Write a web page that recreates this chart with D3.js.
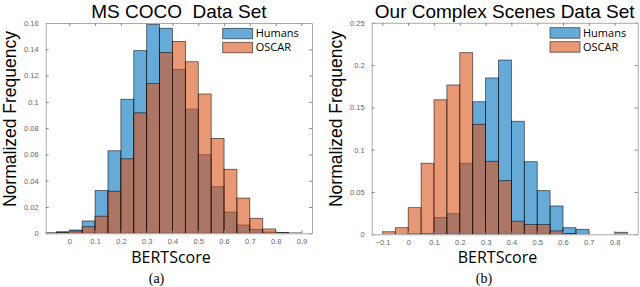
<!DOCTYPE html>
<html>
<head>
<meta charset="utf-8">
<script src="https://cdn.jsdelivr.net/npm/d3@7"></script>
<style>
  body { margin: 0; background: #fff; }
  svg { display: block; }
  .tick text { font-family: "Liberation Sans", Arial, sans-serif; font-size: 7.5px; fill: #666; }
  .tick line { stroke: #888; }
</style>
</head>
<body>
<div id="chart"></div>
<script>
// bin start values (bin width 0.05)
const cocoBins = [-0.1, -0.05, 0, 0.05, 0.1, 0.15, 0.2, 0.25, 0.3, 0.35, 0.4, 0.45, 0.5, 0.55, 0.6, 0.65, 0.7, 0.75, 0.8, 0.85];
const cocoHumans = [0.0003, 0.0012, 0.0025, 0.0094, 0.0325, 0.0628, 0.102, 0.139, 0.159, 0.156, 0.1247, 0.0945, 0.0598, 0.0355, 0.0162, 0.0063, 0.003, 0.001, 0.0006, 0.0003];
const cocoOscar = [0.0002, 0.0006, 0.0018, 0.005, 0.013, 0.032, 0.0567, 0.0917, 0.114, 0.1376, 0.146, 0.1305, 0.106, 0.0722, 0.0487, 0.0268, 0.0114, 0.0033, 0.0004, 0];

const complexBins = [-0.1, -0.05, 0, 0.05, 0.1, 0.15, 0.2, 0.25, 0.3, 0.35, 0.4, 0.45, 0.5, 0.55, 0.6, 0.65, 0.7, 0.75, 0.8];
const complexHumans = [0, 0, 0.0005, 0.0008, 0.020, 0.0244, 0.084, 0.1567, 0.1848, 0.206, 0.1336, 0.0858, 0.0516, 0.0335, 0.0078, 0.0059, 0, 0, 0.0024];
const complexOscar = [0.003, 0.0078, 0.0315, 0.084, 0.159, 0.1765, 0.2147, 0.130, 0.0863, 0.0634, 0.0155, 0.0115, 0.0115, 0.004, 0.001, 0, 0, 0, 0];

const cocoYTicks = [0, 0.02, 0.04, 0.06, 0.08, 0.1, 0.12, 0.14, 0.16];
const cocoXTicks = [0, 0.1, 0.2, 0.3, 0.4, 0.5, 0.6, 0.7, 0.8, 0.9];
const complexYTicks = [0, 0.05, 0.1, 0.15, 0.2, 0.25];
const complexXTicks = [-0.1, 0, 0.1, 0.2, 0.3, 0.4, 0.5, 0.6, 0.7, 0.8];

const seriesNames = ['Humans', 'OSCAR'];
const binWidth = 0.05;

const W = 640, H = 287;
const svg = d3.select('#chart').append('svg')
    .attr('width', W)
    .attr('height', H);

// clip path ids need to be unique
function drawPanel(opt) {
    const x = d3.scaleLinear().domain(opt.xDomain).range([opt.left, opt.right]);
    const y = d3.scaleLinear().domain(opt.yDomain).range([opt.bottom, opt.top]);

    const g = svg.append('g');

    g.append('clipPath').attr('id', opt.id)
        .append('rect')
        .attr('x', opt.left).attr('y', opt.top)
        .attr('width', opt.right - opt.left).attr('height', opt.bottom - opt.top);

    const plot = g.append('g').attr('clip-path', 'url(#' + opt.id + ')');

    const series = [
        {values: opt.humans, color: 'rgb(0,114,189)'},
        {values: opt.oscar, color: 'rgb(217,83,25)'}
    ];
    series.forEach(function (s) {
        const data = opt.bins.map(function (b, i) {
            return {x0: b, v: s.values[i]};
        }).filter(function (d) { return d.v > 0; });
        plot.selectAll(null)
            .data(data)
            .enter()
            .append('rect')
            .attr('x', function (d) { return x(d.x0); })
            .attr('width', function (d) { return x(d.x0 + binWidth) - x(d.x0); })
            .attr('y', function (d) { return y(d.v); })
            .attr('height', function (d) { return y(0) - y(d.v); })
            .attr('fill', s.color)
            .attr('fill-opacity', 0.6)
            .attr('stroke', '#000')
            .attr('stroke-opacity', 0.65)
            .attr('stroke-width', 0.8);
    });

    // axes, ticks pointing inward
    g.append('g').attr('transform', 'translate(' + opt.left + ',0)')
        .call(d3.axisLeft(y).tickValues(opt.yTicks).tickSize(-3).tickSizeOuter(0).tickPadding(7)
            .tickFormat(d3.format('~g')));
    g.append('g').attr('transform', 'translate(' + opt.right + ',0)')
        .call(d3.axisRight(y).tickValues(opt.yTicks).tickSize(-3).tickSizeOuter(0).tickFormat(''));
    g.append('g').attr('transform', 'translate(0,' + opt.bottom + ')')
        .call(d3.axisBottom(x).tickValues(opt.xTicks).tickSize(-3).tickSizeOuter(0).tickPadding(5)
            .tickFormat(d3.format('~g')));
    g.append('g').attr('transform', 'translate(0,' + opt.top + ')')
        .call(d3.axisTop(x).tickValues(opt.xTicks).tickSize(-3).tickSizeOuter(0).tickFormat(''));
    g.selectAll('.domain').attr('stroke', '#aaa');

    // title
    g.append('text')
        .attr('x', (opt.left + opt.right) / 2)
        .attr('y', 17.5)
        .attr('text-anchor', 'middle')
        .style('white-space', 'pre')
        .style('font-family', '"Liberation Sans", Arial, sans-serif')
        .style('font-size', '19px')
        .text(opt.title);

    // y label
    g.append('text')
        .attr('transform', 'translate(' + (opt.left - 29.5) + ',' + 119 + ') rotate(-90)')
        .attr('text-anchor', 'middle')
        .style('font-family', '"Liberation Sans", Arial, sans-serif')
        .style('font-size', '17.5px')
        .text('Normalized Frequency');

    // x label
    g.append('text')
        .attr('x', opt.xLabelX)
        .attr('y', 263)
        .attr('text-anchor', 'middle')
        .style('font-family', '"Open Sans", sans-serif')
        .style('font-size', '16px')
        .text('BERTScore');

    // caption
    g.append('text')
        .attr('x', opt.captionX)
        .attr('y', 283)
        .attr('text-anchor', 'middle')
        .style('font-family', '"Liberation Serif", "Times New Roman", serif')
        .style('font-size', '14px')
        .text(opt.caption);

    // legend
    const legend = g.append('g');
    seriesNames.forEach(function (name, i) {
        const ly = opt.legendY + i * 14;
        legend.append('rect')
            .attr('x', opt.legendX).attr('y', ly)
            .attr('width', 30).attr('height', 10.5)
            .attr('fill', series[i].color)
            .attr('fill-opacity', 0.6)
            .attr('stroke', '#000')
            .attr('stroke-opacity', 0.65)
            .attr('stroke-width', 0.8);
        legend.append('text')
            .attr('x', opt.legendX + 33)
            .attr('y', ly + 9)
            .style('font-family', '"Open Sans", sans-serif')
            .style('font-size', '11px')
            .text(name);
    });
}

drawPanel({
    id: 'clipA',
    left: 45.7, right: 312, top: 23, bottom: 233.3,
    xDomain: [-0.0915, 0.941], yDomain: [0, 0.16],
    bins: cocoBins, humans: cocoHumans, oscar: cocoOscar,
    xTicks: cocoXTicks, yTicks: cocoYTicks,
    title: 'MS COCO  Data Set',
    xLabelX: 171, captionX: 156.5, caption: '(a)',
    legendX: 222.7, legendY: 28.3
});

drawPanel({
    id: 'clipB',
    left: 371.7, right: 637.7, top: 22.8, bottom: 234.3,
    xDomain: [-0.1415, 0.8895], yDomain: [0, 0.25],
    bins: complexBins, humans: complexHumans, oscar: complexOscar,
    xTicks: complexXTicks, yTicks: complexYTicks,
    title: 'Our Complex Scenes Data Set',
    xLabelX: 497.5, captionX: 484, caption: '(b)',
    legendX: 550, legendY: 27.7
});
</script>
</body>
</html>
